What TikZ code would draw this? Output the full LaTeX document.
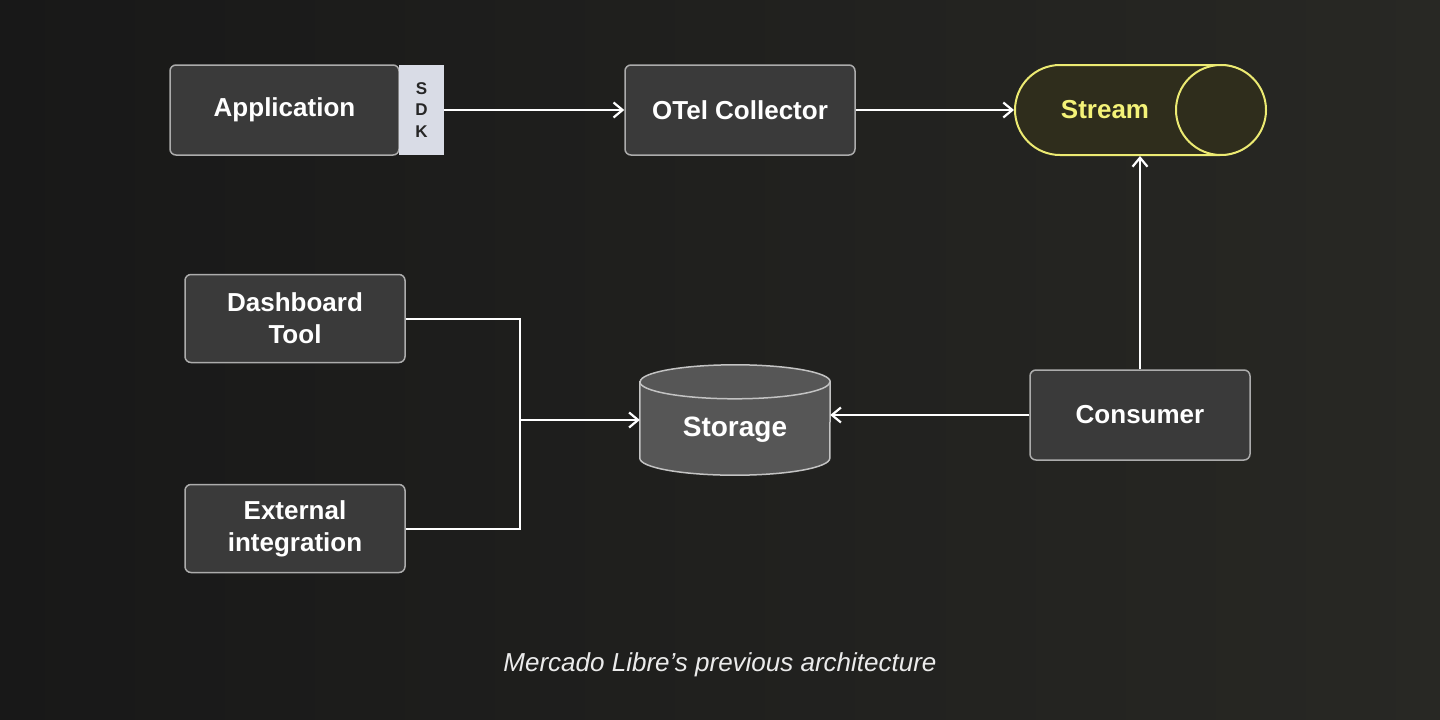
\documentclass[tikz,border=0pt]{standalone}
\usepackage{fontspec}
\setmainfont{Liberation Sans}
\usetikzlibrary{arrows.meta,shapes.misc}

\definecolor{bgleft}{RGB}{24,24,24}
\definecolor{bgright}{RGB}{40,40,36}
\definecolor{boxfill}{RGB}{58,58,58}
\definecolor{boxline}{RGB}{172,172,172}
\definecolor{sdkfill}{RGB}{217,220,230}
\definecolor{storefill}{RGB}{86,86,86}
\definecolor{storeline}{RGB}{195,195,195}
\definecolor{streamfill}{RGB}{47,45,28}
\definecolor{streamline}{RGB}{236,234,114}
\definecolor{streamtext}{RGB}{244,242,120}

\tikzset{
    box/.style={rectangle,rounded corners=6pt,draw=boxline,fill=boxfill,line width=1.5pt,
        inner sep=0pt,minimum width=220pt,minimum height=88pt,text=white,align=center,
        font=\bfseries\fontsize{26}{32}\selectfont},
    sdkbox/.style={rectangle,fill=sdkfill,inner sep=0pt,minimum width=45pt,minimum height=90pt,
        text=black!85,align=center,font=\bfseries\fontsize{17}{21.5}\selectfont},
    streambox/.style={rounded rectangle,draw=streamline,fill=streamfill,line width=2pt,
        inner sep=0pt,minimum width=250pt,minimum height=90pt},
    cylside/.style={draw=storeline,fill=storefill,line width=1.5pt},
    flow/.style={draw=white,line width=2pt,-{Straight Barb[length=9pt,width=15pt,line width=2.2pt]}},
    link/.style={draw=white,line width=2pt},
}

\begin{document}
\begin{tikzpicture}[x=1pt,y=-1pt]
        % Background
        \shade[left color=bgleft,right color=bgright] (0,0) rectangle (1440,720);
        \useasboundingbox (0,0) rectangle (1440,720);

        % Top row
        \node[box,minimum width=229pt,minimum height=90pt] (app) at (284.5,110) {Application};
        \node[sdkbox] (sdk) at (421.5,110) {S\\D\\K};
        \node[box,minimum width=230pt,minimum height=90pt] (otel) at (740,110) {OTel Collector};
        \node[streambox] (stream) at (1140,110) {};
        \draw[streamline,fill=streamfill,line width=2pt] ([xshift=-45pt]stream.east) circle[radius=45pt];
        \node[text=streamtext,font=\bfseries\fontsize{26}{32}\selectfont] (streamlabel) at (1105,110) {Stream};

        % Bottom row
        \node[box] (dash) at (295,318.5) {Dashboard\\Tool};
        \node[box] (ext) at (295,528.5) {External\\integration};
        \node[box,minimum height=90pt] (consumer) at (1140,415) {Consumer};

        % Storage
        \node[inner sep=0pt,minimum width=190pt,minimum height=110pt] (storage) at (735,420) {};
        \draw[cylside] ([yshift=-17pt]storage.north west) -- ([yshift=17pt]storage.south west)
            arc[start angle=180,end angle=360,x radius=95pt,y radius=17pt]
            -- ([yshift=-17pt]storage.north east)
            arc[start angle=0,end angle=180,x radius=95pt,y radius=17pt] -- cycle;
        \draw[cylside,fill=none] ([yshift=-17pt]storage.north west)
            arc[start angle=180,end angle=360,x radius=95pt,y radius=17pt];
        \node[text=white,font=\bfseries\fontsize{28}{32}\selectfont] (storagelabel)
            at ([yshift=-10pt]storage.center) {Storage};

        % Connectors
        \coordinate (join) at (520,420);
        \draw[flow] (sdk.east) -- (otel.west);
        \draw[flow] (otel.east) -- (stream.west);
        \draw[flow] (consumer.north) -- (stream.south);
        \draw[flow] (consumer.west) -- (consumer.west -| storage.east);
        \draw[link] (dash.east) -| (join) |- (ext.east);
        \draw[flow] (join) -- (storage.west);

        % Caption
        \node[text=white!92!black,font=\itshape\fontsize{26}{30}\selectfont] (caption) at (720,665)
            {Mercado Libre’s previous architecture};
\end{tikzpicture}
\end{document}
